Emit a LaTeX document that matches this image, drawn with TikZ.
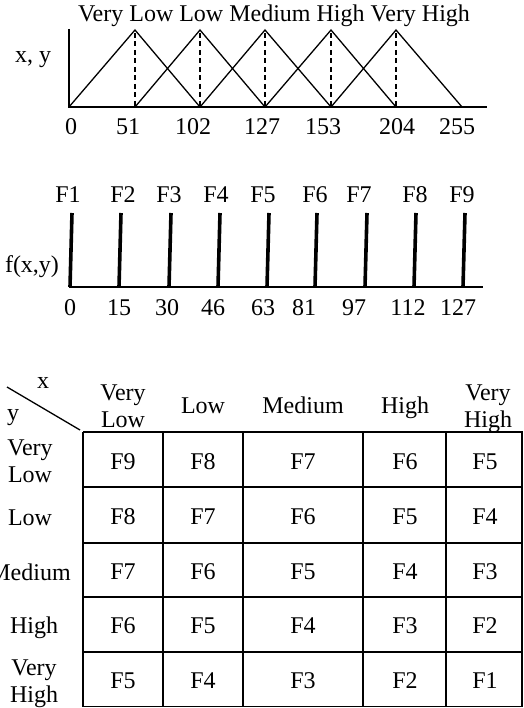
\documentclass[tikz,border=0pt]{standalone}
\usepackage{fontspec}
\setmainfont{Liberation Serif}
\usetikzlibrary{positioning}

\begin{document}
\begin{tikzpicture}[x=1pt, y=-1pt, font=\fontsize{24}{27}\selectfont,
  curve/.style={line width=1.3pt},
  guide/.style={line width=1.3pt, dash pattern=on 5pt off 3.5pt},
  spike/.style={line width=3.6pt},
  cellline/.style={line width=1.2pt},
  lbl/.style={inner sep=0pt, anchor=base, align=center}]
\useasboundingbox (0,0) rectangle (523,708);

% membership functions of x and y
\coordinate (ytop1) at (69,29);
\coordinate (o1) at (69,107);
\coordinate (xend1) at (487,107);
\coordinate (peak) at (0,30);
\draw[curve] (ytop1) -- (o1) -- (xend1);
\foreach \i/\x in {0/69,1/135,2/200,3/265,4/331,5/396,6/462}
  \coordinate (b\i) at (\x,107);
\foreach \i in {1,...,5} {
  \pgfmathtruncatemacro\lo{\i-1}
  \pgfmathtruncatemacro\hi{\i+1}
  \coordinate (p\i) at (b\i |- peak);
  \draw[curve] (b\lo) -- (p\i) -- (b\hi);
  \draw[guide, shorten <=3pt] (p\i) -- (b\i);
}
\foreach \i/\x/\v in {0/71/0,1/128/51,2/193/102,3/262/127,4/323/153,5/397/204,6/457/255}
  \node[lbl] (t\i) at (\x,135) {\v};
\node[lbl] (sets) at (274,22) {Very Low Low Medium High Very High};
\node[lbl] (xy) at (33,63) {x, y};

% output singletons
\coordinate (o2) at (69,287);
\coordinate (xend2) at (483,287);
\draw[curve] (o2) -- (xend2);
\foreach \i/\x/\fx/\v/\vx in {1/70/68/0/70,2/119/123/15/119,3/169/169/30/167,
    4/218/216/46/213,5/267/263/63/263,6/315/315/81/304,7/365/359/97/354,
    8/414/415/112/408,9/463/462/127/458} {
  \coordinate (s\i) at (\x,287);
  \coordinate (h\i) at (\x+2,213);
  \draw[spike] (s\i) -- (h\i);
  \node[lbl] (f\i) at (\fx,203) {F\i};
  \node[lbl] (v\i) at (\vx,315) {\v};
}
\node[lbl] (fxy) at (32,272) {f(x,y)};

% rule table
\coordinate (d1) at (7,387);
\coordinate (d2) at (80,430);
\draw[curve] (d1) -- (d2);
\node[lbl] (hx) at (43,388) {x};
\node[lbl] (hy) at (13,420) {y};
\foreach \y in {432,487,543,597,652,706.5}
  \draw[cellline] (83,\y) -- (523,\y);
\foreach \x in {83,163,243,363,446,522}
  \draw[cellline] (\x,432) -- (\x,707);
\foreach \c/\xc/\yc/\t in {0/123/427/{Very\\Low},1/203/413/Low,2/303/413/Medium,3/405/413/High,4/488/427/{Very\\High}}
  \node[lbl] (col\c) at (\xc,\yc) {\t};
\foreach \r/\xr/\yr/\t in {0/30/482/{Very\\Low},1/30/525/Low,2/30/580/Medium,3/34/633/High,4/34/702/{Very\\High}}
  \node[lbl] (row\r) at (\xr,\yr) {\t};
\foreach \r/\yc in {0/469,1/524,2/579,3/633,4/688}
  \foreach \c/\xc in {0/123,1/203,2/303,3/405,4/485} {
    \pgfmathtruncatemacro\f{9-\r-\c}
    \node[lbl] (c\r\c) at (\xc,\yc) {F\f};
  }
\end{tikzpicture}
\end{document}
